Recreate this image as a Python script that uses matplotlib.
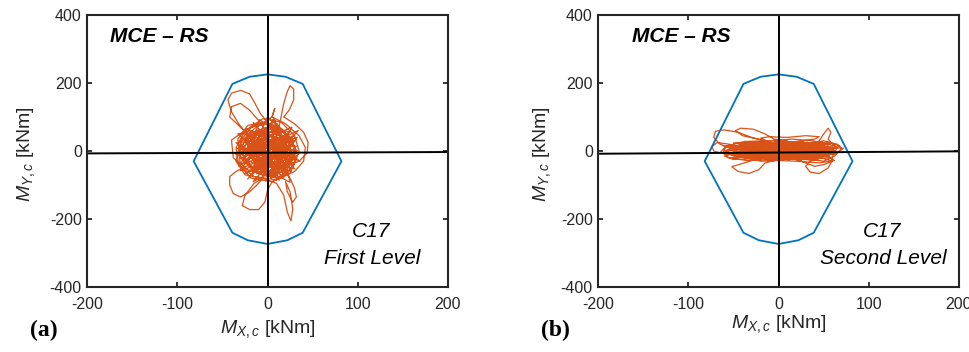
import matplotlib.pyplot as plt
import numpy as np

plt.rcParams['font.family'] = ['Liberation Sans', 'DejaVu Sans']
plt.rcParams['mathtext.fontset'] = 'custom'
plt.rcParams['mathtext.rm'] = 'Liberation Sans'
plt.rcParams['mathtext.it'] = 'Liberation Sans:italic'
plt.rcParams['axes.unicode_minus'] = False

# interaction domain (kNm)
dom_x = [0, -20, -39, -82, -39, -22, 0, 22, 39, 82, 39, 20, 0]
dom_y = [225, 218, 197, -30, -240, -262, -273, -262, -240, -30, 197, 218, 225]

# moment path, column C17 first level
path_a = [(0, -5), (10, 30), (-5, 60), (-22, 35), (-28, -10), (-15, -55), (8, -75), (25, -40), (30, 10),
          (18, 55), (0, 80), (-18, 70), (-30, 30), (-25, -30), (-5, -70), (15, -60), (28, -15), (22, 35),
          (5, 65), (-15, 50), (-20, 5), (-10, -45), (12, -50), (20, -5), (10, 40), (-8, 45), (-12, 0),
          (0, -30), (-20, 40), (-32, 80), (-40, 115), (-44, 150), (-40, 170), (-30, 178), (-20, 168),
          (-14, 140), (-8, 110), (0, 85), (8, 60), (20, 20), (32, -20), (25, -65), (5, -90), (-18, -80),
          (-32, -40), (-35, 10), (-25, 60), (-5, 95), (15, 85), (30, 45), (35, 0), (28, -50), (10, -80),
          (-12, -65), (-25, -20), (-20, 30), (-2, 50), (15, 30), (18, -10), (5, -40), (-10, -25), (-8, 15),
          (8, 20), (12, 60), (15, 100), (18, 140), (22, 175), (25, 192), (29, 182), (29, 150), (24, 120),
          (18, 100), (30, 80), (40, 55), (45, 25), (44, -5), (35, -30), (20, -45), (0, -60), (-20, -45),
          (-30, 0), (-22, 50), (0, 70), (22, 50), (32, 0), (22, -55), (0, -75), (-22, -55), (-38, -20),
          (-40, 32), (-28, 55), (-10, 80), (12, 75), (25, 30), (20, -25), (2, -45), (-15, -30), (-18, 10),
          (-5, 35), (12, 30), (15, 0), (5, -20), (-20, -40), (-35, -60), (-42, -75), (-42, -100),
          (-38, -125), (-30, -135), (-20, -120), (-12, -100), (-5, -80), (-15, -95), (-25, -130),
          (-28, -160), (-20, -172), (-10, -172), (-3, -150), (0, -115), (5, -90), (20, -70), (30, -35),
          (30, 15), (18, 60), (-2, 85), (-22, 75), (-33, 35), (-30, -20), (-15, -60), (8, -65), (25, -30),
          (25, 20), (10, 55), (-10, 60), (-22, 25), (-18, -20), (0, -40), (15, -25), (15, 15), (0, 30),
          (-10, 10), (0, -20), (15, -50), (25, -80), (30, -110), (32, -135), (28, -150), (22, -120),
          (20, -90), (25, -120), (28, -170), (26, -205), (22, -180), (18, -130), (10, -95), (-5, -80),
          (-25, -70), (-35, -30), (-30, 25), (-15, 65), (5, 100), (8, 125), (5, 100), (20, 80), (35, 45),
          (42, 10), (40, -30), (30, -60), (10, -85), (-15, -75), (-30, -45), (-32, 5), (-20, 45), (0, 60),
          (18, 40), (22, 0), (10, -35), (-8, -35), (-15, -5), (-5, 25), (8, 10), (3, -10), (-15, 30),
          (-30, 70), (-42, 100), (-40, 130), (-30, 140), (-20, 120), (-10, 90), (-2, 60),
          (3, -10), (-18, 22), (12, 58), (26, -8), (-6, -62), (-27, 12), (8, 88), (31, -33), (-14, -48),
          (-24, 66), (19, 14), (-2, -88), (33, 40), (-31, -12), (6, 37), (22, -72), (-19, -5), (-9, 92),
          (28, 24), (-25, -66), (14, -28), (-4, 48), (-33, 51), (17, -58), (35, -6), (-12, -22), (2, 72),
          (24, 56), (-28, -38), (10, -4), (-16, 84), (30, -52), (-6, -30), (-22, -82), (20, 38), (-35, 24),
          (4, -48), (27, 70), (-10, 28), (13, -86), (-26, 4), (32, 14), (-3, -70), (-20, 46), (23, -22),
          (7, 96), (-30, -58), (18, -12), (-13, 62), (36, -30), (-1, 12), (-24, -28), (11, 80), (25, -92),
          (-36, -8), (9, 22), (-18, -72), (29, 46), (-8, -12), (16, 66), (-27, 36), (4, -80), (33, 2),
          (-14, 10), (20, -40), (-5, 58), (-32, -44), (14, 40), (26, -60), (-20, -18), (0, 100), (30, 28),
          (-24, 58), (8, -62), (-10, -50), (22, 8), (-34, 8), (12, -20), (-2, 32), (24, -34), (-16, -90),
          (34, 60), (-29, -22), (6, 50), (18, -78), (-22, 14), (2, -6)]

# moment path, column C17 second level
path_b = [(0, 0), (25, 15), (50, 10), (60, -5), (45, -20), (15, -15), (-15, -10), (-40, -5), (-55, 5),
          (-40, 18), (-10, 22), (20, 20), (45, 25), (62, 15), (58, -10), (35, -25), (5, -20), (-25, -20),
          (-50, -15), (-60, 0), (-48, 12), (-20, 15), (10, 10), (35, 5), (55, -2), (40, -12), (15, -8),
          (-15, 0), (-35, 8), (-20, -8), (5, 5), (30, 18), (50, 30), (65, 20), (70, 8), (62, -15),
          (50, -30), (30, -22), (10, -10), (-10, -25), (-35, -28), (-55, -20), (-62, -5), (-58, 15),
          (-38, 28), (-10, 30), (15, 35), (38, 30), (55, 18), (50, 0), (28, -5), (0, -5), (-28, -2),
          (-50, 5), (-65, 20), (-72, 40), (-70, 58), (-60, 62), (-45, 55), (-30, 40), (-15, 30),
          (-40, 45), (-48, 60), (-42, 67), (-28, 64), (-15, 50), (-5, 35), (15, 25), (40, 15), (58, 5),
          (45, -15), (20, -20), (-5, -12), (-30, -15), (-52, -8), (-45, 10), (-25, 20), (0, 15), (25, 8),
          (48, -5), (-20, -20), (-38, -35), (-52, -46), (-45, -60), (-33, -66), (-22, -55), (-15, -35),
          (0, -25), (20, -10), (40, 0), (60, 10), (72, 8), (65, -5), (50, -15), (30, -10), (10, 0),
          (-15, 10), (-40, 15), (-60, 10), (-65, -5), (-72, 0), (-74, 13), (-68, 25), (-55, 20),
          (-35, 10), (-10, 0), (15, -2), (35, 10), (45, 30), (50, 50), (55, 67), (58, 55), (55, 35),
          (60, 20), (65, 10), (60, -15), (58, -35), (55, -50), (45, -66), (35, -62), (30, -45), (35, -30),
          (45, -20), (30, -18), (10, -15), (-10, -5), (-30, 5), (-50, 12), (-58, 0), (-45, -12),
          (-20, -15), (5, -8), (30, 0), (52, 8), (62, 2), (50, -8), (25, -12), (0, -2), (-20, 10),
          (-40, 22), (-25, 28), (0, 25), (20, 28), (40, 35), (45, 42), (30, 45), (10, 40), (-10, 42),
          (-20, 38), (-5, 20), (15, 10), (35, -2), (55, -15), (62, -28), (45, -35), (20, -30), (0, -28),
          (-20, -30), (-35, -20), (-42, 0), (-30, 12), (-5, 8), (20, 3), (42, -3), (60, 5), (68, 15),
          (55, 25), (30, 20), (0, 10), (-25, 0), (-50, -5), (-60, -15), (-50, -25), (-25, -22), (0, -15),
          (25, -15), (50, -22), (60, -30), (50, -40), (40, -45), (30, -35), (15, -20),
          (5, 2), (-30, 18), (42, -14), (-52, -6), (20, 26), (58, -20), (-15, -24), (-44, 22), (35, 12),
          (-8, -18), (62, 8), (-58, 12), (12, -26), (28, 30), (-38, -22), (50, -2), (-22, 8), (8, 32),
          (45, -28), (-60, -10), (30, -4), (-5, 20), (55, 20), (-35, 2), (18, -18), (-50, 24), (40, 24),
          (-12, -30), (64, -8), (-25, -12), (0, 28), (35, -20), (-48, -18), (22, 6), (-18, 22), (52, -14),
          (-8, -8), (48, 28), (-55, 2), (10, -22), (-30, 28), (60, 12), (-40, -12), (15, 18), (-10, -20),
          (38, 2), (-62, 16), (25, -28), (-20, -2), (58, 22), (2, -14), (-45, 8), (32, 26), (-28, -26),
          (45, 4), (-5, 30), (20, -8), (-52, -20), (55, -6), (0, 6)]

# reference cross lines (slightly tilted in the original)
cross_x = [-200, 200]
cross_ya = [-7, -3]
cross_yb = [-8, -1]

panels = [
    dict(path=path_a, cy=cross_ya, tag='(a)', level='First Level', pos=[0.0901, 0.184, 0.372, 0.774],
         title_x=-175, ylab_x=-0.14, xlab_y=-0.113, tag_x=-0.16),
    dict(path=path_b, cy=cross_yb, tag='(b)', level='Second Level', pos=[0.6175, 0.184, 0.372, 0.774],
         title_x=-163, ylab_x=-0.126, xlab_y=-0.095, tag_x=-0.16),
]

fig = plt.figure(figsize=(9.69, 3.52), dpi=100)
dark = '#262626'

for p in panels:
    ax = fig.add_axes(p['pos'])
    pts = np.array(p['path'])
    ax.plot(pts[:, 0], pts[:, 1], color='#D95319', lw=0.9, solid_joinstyle='round')
    ax.plot(dom_x, dom_y, color='#0072BD', lw=1.3)
    ax.plot(cross_x, p['cy'], color='black', lw=1.4)
    ax.plot([0, 0], [-400, 400], color='black', lw=1.4)

    ax.set_xlim(-200, 200)
    ax.set_ylim(-400, 400)
    ax.set_xticks([-200, -100, 0, 100, 200])
    ax.set_yticks([-400, -200, 0, 200, 400])
    ax.tick_params(direction='in', length=3.5, width=1.3, top=True, right=True,
                   labelsize=11.5, colors=dark, labelcolor=dark)
    ax.tick_params(axis='x', pad=7)
    ax.tick_params(axis='y', pad=4)
    for s in ax.spines.values():
        s.set_linewidth(1.5)
        s.set_color(dark)

    ax.set_ylabel(r'$M_{Y,c}$ [kNm]', fontsize=14, color=dark)
    ax.yaxis.set_label_coords(p['ylab_x'], 0.49)
    ax.set_xlabel(r'$M_{X,c}$ [kNm]', fontsize=14, color=dark)
    ax.xaxis.set_label_coords(0.5, p['xlab_y'])

    ax.text(p['title_x'], 335, 'MCE – RS', fontsize=15, fontweight='bold', fontstyle='italic',
            va='center', ha='left', color='black')
    ax.text(115, -237, 'C17', fontsize=15, fontstyle='italic', ha='center', va='center', color='black')
    ax.text(116, -315, p['level'], fontsize=15, fontstyle='italic', ha='center', va='center', color='black')
    ax.text(p['tag_x'], -0.16, p['tag'], transform=ax.transAxes, fontsize=17, fontweight='bold',
            family='Liberation Serif', ha='left', va='center', color='black')

fig.savefig('out.png', dpi=100)
